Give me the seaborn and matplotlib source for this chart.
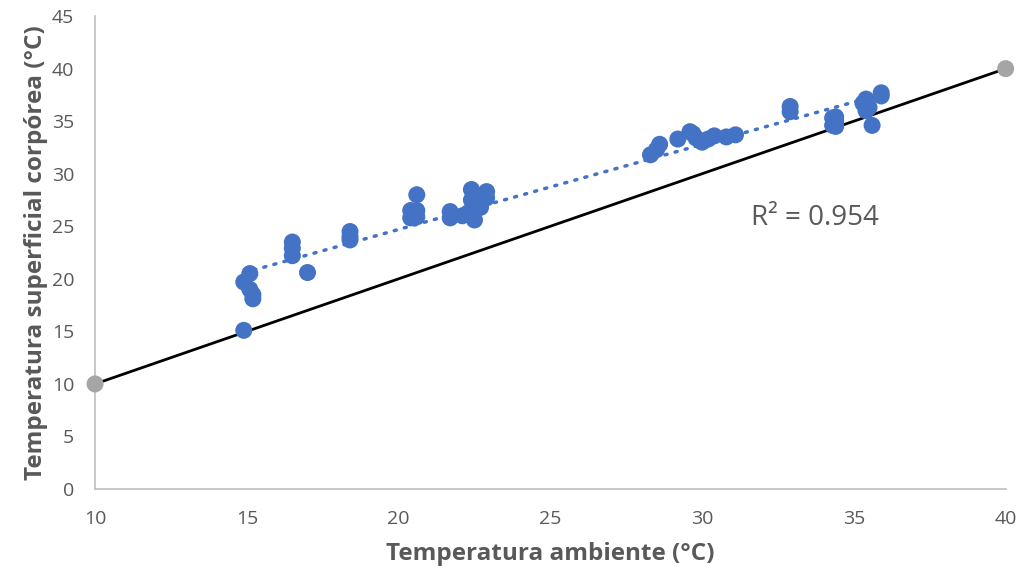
import numpy as np
import pandas as pd
import matplotlib
matplotlib.use("Agg")
import matplotlib.pyplot as plt
import seaborn as sns

# Data
temp_ambiente = [14.9, 14.9, 15.1, 15.1, 15.2, 15.2,
                 16.5, 16.5, 16.5, 17.0,
                 18.4, 18.4, 18.4,
                 20.4, 20.4, 20.6, 20.6, 20.6,
                 21.7, 21.7,
                 22.1, 22.3, 22.4, 22.4, 22.5, 22.5, 22.6, 22.7, 22.8, 22.9, 22.7, 22.9,
                 28.3, 28.5, 28.6,
                 29.2, 29.6, 29.7, 29.8, 30.0, 30.2, 30.4, 30.8, 31.1,
                 32.9, 32.9,
                 34.3, 34.3, 34.4, 34.4, 34.4,
                 35.3, 35.4, 35.5, 35.4, 35.6, 35.9, 35.9]
temp_corporea = [15.1, 19.7, 20.5, 19.0, 18.5, 18.1,
                 23.5, 22.9, 22.2, 20.6,
                 24.5, 24.0, 23.7,
                 26.5, 25.8, 28.0, 26.5, 25.9,
                 26.4, 25.8,
                 26.0, 26.3, 28.5, 27.5, 25.6, 26.8, 27.0, 27.3, 28.0, 28.3, 26.8, 27.7,
                 31.8, 32.3, 32.8,
                 33.3, 34.0, 33.8, 33.4, 33.0, 33.3, 33.6, 33.5, 33.7,
                 36.4, 35.9,
                 35.3, 34.6, 35.0, 34.5, 35.4,
                 36.7, 37.1, 36.3, 36.0, 34.6, 37.7, 37.4]
ref_x = [10, 40]
ref_y = [10, 40]
r2_label = "R² = 0.954"
x_ticks = [10, 15, 20, 25, 30, 35, 40]
y_ticks = [0, 5, 10, 15, 20, 25, 30, 35, 40, 45]

df = pd.DataFrame({"x": temp_ambiente, "y": temp_corporea})

sns.set_theme(style="white")
plt.rcParams['font.family'] = ['Open Sans', 'DejaVu Sans']

fig = plt.figure(figsize=(10.22, 5.74), dpi=100)
ax = fig.add_axes([0.093, 0.148, 0.891, 0.824])

blue = "#4472C4"
grey_text = "#595959"

# 1:1 reference line
ref_df = pd.DataFrame({"x": ref_x, "y": ref_y})
sns.lineplot(data=ref_df, x="x", y="y", ax=ax, color="black", linewidth=2, zorder=2)
sns.scatterplot(data=ref_df, x="x", y="y", ax=ax, color="#A5A5A5", s=150,
                edgecolor="none", zorder=5, clip_on=False)

# data points
sns.scatterplot(data=df, x="x", y="y", ax=ax, color=blue, s=150,
                edgecolor="none", zorder=3)

# linear trendline
coef = np.polyfit(df["x"], df["y"], 1)
tx = np.array([df["x"].min(), df["x"].max()])
trend = pd.DataFrame({"x": tx, "y": np.polyval(coef, tx)})
sns.lineplot(data=trend, x="x", y="y", ax=ax, color=blue, linewidth=2.5,
             linestyle=(0, (0.6, 2.4)), dash_capstyle="round", zorder=4)

ax.text(31.6, 25.8, r2_label, fontsize=20, color=grey_text, va="center", ha="left")

ax.set_xlim(10, 40)
ax.set_ylim(0, 45)
ax.set_xticks(x_ticks)
ax.set_yticks(y_ticks)
ax.tick_params(axis="both", length=0, labelsize=14, colors=grey_text)
ax.tick_params(axis="x", pad=15)
ax.tick_params(axis="y", pad=15)
ax.set_xlabel("Temperatura ambiente (°C)", fontsize=17.5, fontweight="bold",
              color=grey_text, labelpad=10)
ax.set_ylabel("Temperatura superficial corpórea (°C)", fontsize=17.5,
              fontweight="bold", color=grey_text, labelpad=3)

for s in ["top", "right"]:
    ax.spines[s].set_visible(False)
for s in ["left", "bottom"]:
    ax.spines[s].set_color("#BFBFBF")
    ax.spines[s].set_linewidth(1.2)

fig.savefig("out.png", dpi=100)
